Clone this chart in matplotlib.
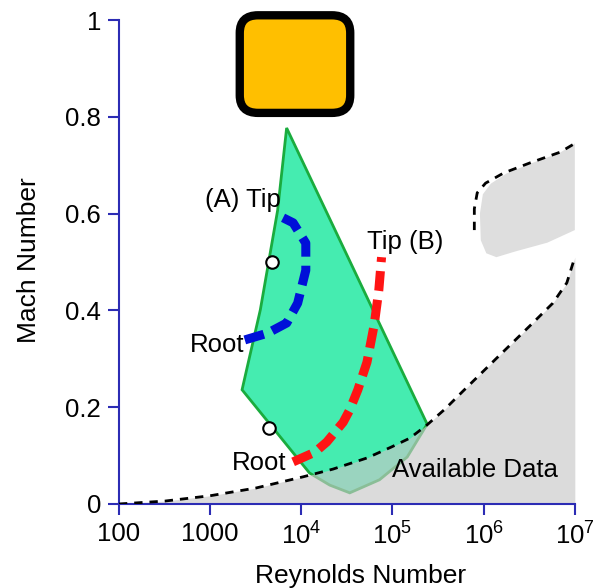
import numpy as np
import matplotlib
matplotlib.use('Agg')
import matplotlib.pyplot as plt
from matplotlib.patches import Polygon, FancyBboxPatch

plt.rcParams['font.family'] = ['Liberation Sans', 'DejaVu Sans']

# boundary of the wind-tunnel data (lower dashed curve)
data_re = [100, 319, 1000, 3180, 1.04e4, 2.22e4, 5.24e4, 9.8e4, 1.55e5, 2.38e5,
           3.76e5, 5.92e5, 1.40e6, 3.21e6, 5.74e6, 8.17e6, 1.0e7]
data_mach = [0.0, 0.006, 0.017, 0.033, 0.056, 0.072, 0.095, 0.118, 0.136, 0.163,
             0.196, 0.233, 0.302, 0.368, 0.415, 0.457, 0.51]

# upper high-Re data pocket
pocket_fill_re = [9.1e5, 9.8e5, 1.2e6, 1.78e6, 3.24e6, 6.9e6, 1.0e7, 1.0e7,
                  5.0e6, 2.24e6, 1.38e6, 1.07e6, 9.3e5]
pocket_fill_mach = [0.60, 0.64, 0.662, 0.683, 0.703, 0.726, 0.745, 0.566,
                    0.54, 0.522, 0.510, 0.518, 0.545]
pocket_edge_re = [7.9e5, 7.9e5, 8.5e5, 1.05e6, 1.66e6, 3.24e6, 6.9e6, 1.0e7]
pocket_edge_mach = [0.566, 0.610, 0.643, 0.663, 0.684, 0.705, 0.727, 0.745]

# operating envelope
env_re = [6900, 2.4e5, 1.45e5, 7.2e4, 3.4e4, 2.05e4, 1.23e4, 2240, 2510, 3550, 5500]
env_mach = [0.777, 0.165, 0.097, 0.050, 0.023, 0.039, 0.064, 0.236, 0.277, 0.401, 0.607]

# blade A, root to tip
a_re = [2400, 4270, 6920, 9120, 1.12e4, 1.12e4, 8130, 5500]
a_mach = [0.339, 0.353, 0.374, 0.415, 0.483, 0.539, 0.581, 0.597]

# blade B, root to tip
b_re = [8130, 1.41e4, 1.9e4, 2.88e4, 3.39e4, 4.17e4, 5.25e4, 6.3e4, 7.08e4, 7.59e4]
b_mach = [0.087, 0.107, 0.128, 0.169, 0.194, 0.236, 0.293, 0.370, 0.442, 0.510]

pts_re = [4790, 4420]
pts_mach = [0.500, 0.157]

xticks = [100, 1000, 1e4, 1e5, 1e6, 1e7]
xlabels = ['100', '1000', r'$\mathdefault{10^{4}}$', r'$\mathdefault{10^{5}}$',
           r'$\mathdefault{10^{6}}$', r'$\mathdefault{10^{7}}$']
yticks = [0, 0.2, 0.4, 0.6, 0.8, 1.0]
ylabels = ['0', '0.2', '0.4', '0.6', '0.8', '1']

fig = plt.figure(figsize=(6.07, 5.88), dpi=100)
ax = fig.add_axes([0.196, 0.1429, 0.751, 0.823])
ax.set_xscale('log')

spine_col = '#2c2cb4'

env = Polygon(np.column_stack([env_re, env_mach]), closed=True,
              facecolor='#45ecb0', edgecolor='#1aac3e', lw=2, zorder=1)
ax.add_patch(env)

ax.fill_between(data_re, data_mach, 0, color='#c8c8c8', alpha=0.65, lw=0, zorder=2)
ax.fill(pocket_fill_re, pocket_fill_mach, color='#c8c8c8', alpha=0.6, lw=0, zorder=2)

ax.plot(data_re, data_mach, color='black', lw=2, dashes=(3, 2.5), zorder=3)
ax.plot(pocket_edge_re, pocket_edge_mach, color='black', lw=2, dashes=(3, 2.5), zorder=3)

ax.plot(a_re, a_mach, color='#0010d8', lw=6.5, dashes=(2.2, 1.0), zorder=4)
ax.plot(b_re, b_mach, color='#ff1414', lw=6.5, dashes=(2.2, 1.0), zorder=4)

ax.plot(pts_re, pts_mach, 'o', ms=9, mfc='white', mec='black', mew=1.5, zorder=5)

fs = 18.5
ax.text(870, 0.628, '(A) Tip', fontsize=fs, ha='left', va='center', zorder=6)
ax.text(2400, 0.329, 'Root', fontsize=fs, ha='right', va='center', zorder=6)
ax.text(6900, 0.085, 'Root', fontsize=fs, ha='right', va='center', zorder=6)
ax.text(5.25e4, 0.541, 'Tip (B)', fontsize=fs, ha='left', va='center', zorder=6)
ax.text(1.0e5, 0.07, 'Available Data', fontsize=fs, ha='left', va='center', zorder=6)

ax.set_xlim(100, 1e7)
ax.set_ylim(0, 1)
ax.set_xticks(xticks)
ax.set_xticklabels(xlabels)
ax.xaxis.set_minor_locator(matplotlib.ticker.NullLocator())
ax.set_yticks(yticks)
ax.set_yticklabels(ylabels)
ax.tick_params(axis='both', colors=spine_col, labelcolor='black', labelsize=fs,
               length=8, width=1.5, direction='out', pad=5)

for side in ['top', 'right']:
    ax.spines[side].set_visible(False)
for side in ['left', 'bottom']:
    ax.spines[side].set_color(spine_col)
    ax.spines[side].set_linewidth(1.5)

ax.set_xlabel('Reynolds Number', fontsize=19)
ax.set_ylabel('Mach Number', fontsize=19)
ax.xaxis.set_label_coords(0.53, -0.125)
ax.yaxis.set_label_coords(-0.17, 0.504)

# rounded label box above the plot
box = FancyBboxPatch((0.395, 0.808), 0.182, 0.166, transform=fig.transFigure,
                     boxstyle='round,pad=0,rounding_size=0.03',
                     facecolor='#ffbf00', edgecolor='black', lw=6, zorder=10)
fig.add_artist(box)

fig.savefig('out.png', dpi=100)
